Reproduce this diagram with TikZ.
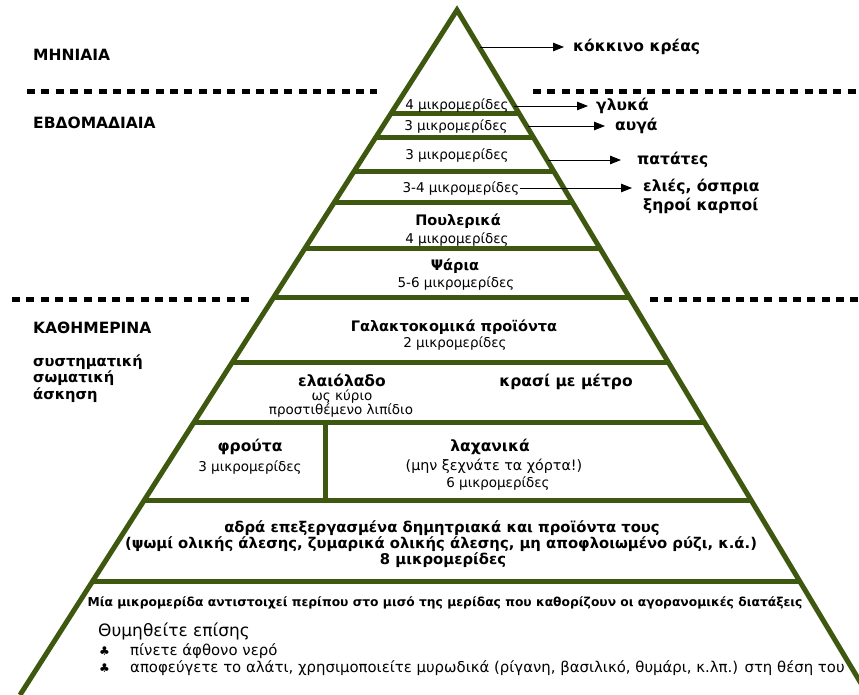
\documentclass[tikz,border=0pt]{standalone}
\usepackage{fontspec}
\setmainfont{DejaVu Sans}
\newfontfamily\symfont{DejaVu Sans}
\usetikzlibrary{arrows.meta,calc}
\definecolor{pgreen}{RGB}{62,88,16}
\begin{document}
\begin{tikzpicture}[x=1pt,y=-1pt,
  edge/.style={draw=pgreen,line width=5pt,line join=miter},
  bar/.style={draw=pgreen,line width=5pt},
  dots/.style={line width=5pt,dash pattern=on 8pt off 6.3pt},
  arr/.style={-{Triangle[length=11pt,width=8.5pt]},line width=0.8pt},
  txt/.style={inner sep=0pt,anchor=mid,yshift=-2pt},
  cnt/.style={txt,font=\fontsize{13.5}{15}\selectfont},
  cat/.style={txt,font=\fontsize{14.5}{16}\selectfont\bfseries},
  catl/.style={txt,font=\fontsize{15.5}{17}\selectfont\bfseries},
  big/.style={txt,font=\fontsize{14.8}{16}\selectfont\bfseries},
  lab/.style={txt,font=\fontsize{15.5}{17}\selectfont\bfseries,anchor=mid west},
  labs/.style={lab,font=\fontsize{14.7}{17}\selectfont\bfseries},
]
\useasboundingbox (0,0) rectangle (859,695);
\clip (0,0) rectangle (859,695);
\coordinate (A) at (457,10);
\coordinate (L) at (19.97,695);
\coordinate (R) at (868,695);
% dotted separators
\draw[dots] (27,92) -- (377,92);
\draw[dots] (533,92) -- (859,92);
\draw[dots] (12,299) -- (253,299);
\draw[dots] (650,299) -- (859,299);
% pyramid
\draw[edge] (L) -- (A) -- (R);
\foreach \y in {114,138,172,203,249,298,363,423,501,581}{
  \draw[bar] ($(A)!{(\y-10)/685}!(L)$) -- ($(A)!{(\y-10)/685}!(R)$);
}
\draw[bar] (325,423) -- (325,501);
% left labels
\node[lab] (m) at (33,56) {ΜΗΝΙΑΙΑ};
\node[lab] (w) at (33,124) {ΕΒΔΟΜΑΔΙΑΙΑ};
\node[lab] (d) at (33,329) {ΚΑΘΗΜΕΡΙΝΑ};
\node[labs] (ex1) at (33,362) {συστηματική};
\node[labs] (ex2) at (33,378) {σωματική};
\node[labs] (ex3) at (33,395) {άσκηση};
% top tiers
\node[cnt] (c1) at (457,105) {4 μικρομερίδες};
\node[cnt] (c2) at (456,126) {3 μικρομερίδες};
\node[cnt] (c3) at (457,155) {3 μικρομερίδες};
\node[cnt] (c4) at (461,188) {3-4 μικρομερίδες};
\node[lab] (l0) at (573,47) {κόκκινο κρέας};
\node[lab] (l1) at (596,106) {γλυκά};
\node[lab] (l2) at (615,126) {αυγά};
\node[lab] (l3) at (637,160) {πατάτες};
\node[lab] (l4) at (643,187) {ελιές, όσπρια};
\node[lab] (l4b) at (643,206) {ξηροί καρποί};
\coordinate (s0) at (480,47);
\coordinate (s1) at (514,106);
\coordinate (s2) at (528,126);
\coordinate (s3) at (548,160);
\coordinate (s4) at (c4.east);
\draw[arr,shorten >=9pt] (s0) -- (s0 -| l0.west);
\draw[arr,shorten >=8pt] (s1) -- (s1 -| l1.west);
\draw[arr,shorten >=10pt] (s2) -- (s2 -| l2.west);
\draw[arr,shorten >=16pt] (s3) -- (s3 -| l3.west);
\draw[arr,shorten >=11pt] (s4 |- 0,188) -- (l4.west |- 0,188);
% middle tiers
\node[cat] (p1) at (458,221) {Πουλερικά};
\node[cnt] (p1b) at (457,239) {4 μικρομερίδες};
\node[cat] (p2) at (455,266) {Ψάρια};
\node[cnt] (p2b) at (456,283) {5-6 μικρομερίδες};
\node[cat] (p3) at (454,327) {Γαλακτοκομικά προϊόντα};
\node[cnt] (p3b) at (455,343) {2 μικρομερίδες};
\node[catl] (p4) at (342,382) {ελαιόλαδο};
\node[cnt] (p4b) at (342,396) {ως κύριο};
\node[cnt] (p4c) at (341,410) {προστιθέμενο λιπίδιο};
\node[catl] (p5) at (566,382) {κρασί με μέτρο};
\node[catl] (p6) at (250,447) {φρούτα};
\node[cnt] (p6b) at (250,467) {3 μικρομερίδες};
\node[catl] (p7) at (490,447) {λαχανικά};
\node[cnt,font=\fontsize{14.3}{16}\selectfont] (p7b) at (494,466) {(μην ξεχνάτε τα χόρτα!)};
\node[cnt] (p7c) at (498,483) {6 μικρομερίδες};
\node[big] (p8) at (442,528) {αδρά επεξεργασμένα δημητριακά και προϊόντα τους};
\node[big] (p8b) at (441,544) {(ψωμί ολικής άλεσης, ζυμαρικά ολικής άλεσης, μη αποφλοιωμένο ρύζι, κ.ά.)};
\node[big] (p8c) at (443,560) {8 μικρομερίδες};
% footer
\node[txt,font=\fontsize{12.3}{14}\selectfont\bfseries] (f1) at (445,602) {Μία μικρομερίδα αντιστοιχεί περίπου στο μισό της μερίδας που καθορίζουν οι αγορανομικές διατάξεις};
\node[txt,font=\fontsize{17}{19}\selectfont,anchor=mid west] (f2) at (98,632) {Θυμηθείτε επίσης};
\node[txt,font=\fontsize{12}{14}\selectfont\symfont,anchor=mid west] (b1) at (99,651) {♣};
\node[txt,font=\fontsize{12}{14}\selectfont\symfont,anchor=mid west] (b2) at (99,668) {♣};
\node[txt,font=\fontsize{14.9}{16}\selectfont,anchor=mid west] (f3) at (130,651) {πίνετε άφθονο νερό};
\node[txt,font=\fontsize{14.9}{16}\selectfont,anchor=mid west] (f4) at (130,668) {αποφεύγετε το αλάτι, χρησιμοποιείτε μυρωδικά (ρίγανη, βασιλικό, θυμάρι, κ.λπ.) στη θέση του};
\end{tikzpicture}
\end{document}
